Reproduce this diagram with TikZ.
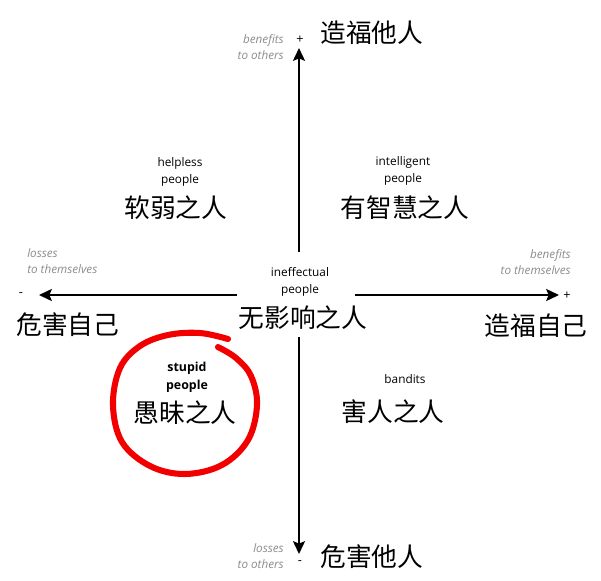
\documentclass[tikz,border=0pt]{standalone}
\usepackage{fontspec}
\setmainfont{Open Sans}
\newfontfamily\cjk{Noto Sans CJK SC}
\usetikzlibrary{arrows.meta}
\tikzset{
  axis/.style={line width=1.4pt, -{Stealth[length=0.32cm,width=0.3cm,inset=0.06cm]}},
  note/.style={font=\fontsize{8.3}{11.3}\selectfont\itshape, text=black!45, inner sep=0pt},
  tag/.style={font=\fontsize{8.4}{12}\selectfont, align=center, inner sep=0pt},
  cn/.style={font=\cjk\fontsize{18.3}{20}\selectfont, inner sep=0pt},
  sign/.style={font=\fontsize{9}{10}\selectfont, inner sep=0pt}
}
\begin{document}
\begin{tikzpicture}[x=0.025cm,y=-0.025cm]
\useasboundingbox (0,0) rectangle (601,581);
\coordinate (up) at (299,48);
\coordinate (upend) at (299,252);
\coordinate (down) at (299,554);
\coordinate (downend) at (299,337);
\coordinate (left) at (39,295);
\coordinate (leftend) at (237,295);
\coordinate (right) at (559,295);
\coordinate (rightend) at (355,295);
\draw [axis] (upend) -- (up);
\draw [axis] (downend) -- (down);
\draw [axis] (leftend) -- (left);
\draw [axis] (rightend) -- (right);
\node [cn, anchor=west] (othersplus) at (320,33) {造福他人};
\node [sign] (plustop) at (300,40) {+};
\node [note, anchor=east, align=right] (notetop) at (284,47) {benefits\\to others};
\node [cn, anchor=west] (othersminus) at (320,557) {危害他人};
\node [sign] (minusbottom) at (300,563) {-};
\node [note, anchor=east, align=right] (notebottom) at (284,556) {losses\\to others};
\node [cn] (selfminus) at (68,325) {危害自己};
\node [sign] (minusleft) at (21,295) {-};
\node [note, anchor=west, align=left] (noteleft) at (27,261) {losses\\to themselves};
\node [cn] (selfplus) at (536,326) {造福自己};
\node [sign] (plusright) at (567,296) {+};
\node [note, anchor=east, align=right] (noteright) at (571,262) {benefits\\to themselves};
\node [tag] (helpless) at (180,172) {helpless\\people};
\node [cn] (helplesscn) at (176,208) {软弱之人};
\node [tag] (intelligent) at (403,171) {intelligent\\people};
\node [cn] (intelligentcn) at (405,208) {有智慧之人};
\node [tag] (ineffectual) at (300,282) {ineffectual\\people};
\node [cn] (ineffectualcn) at (303,318) {无影响之人};
\node [tag, font=\fontsize{8.8}{12.5}\selectfont\bfseries] (stupid) at (187,377) {stupid\\people};
\node [cn] (stupidcn) at (185,413) {愚昧之人};
\node [tag] (bandits) at (405,379) {bandits};
\node [cn] (banditscn) at (393,412) {害人之人};
\draw [red!95!black, line width=4.3pt, line cap=round] plot [smooth, tension=0.6] coordinates {(228,339) (200,333) (168,335) (140,346) (120,368) (113,405) (122,442) (150,466) (185,474) (222,465) (248,440) (257,405) (251,376) (236,358) (218,347)};
\end{tikzpicture}
\end{document}
